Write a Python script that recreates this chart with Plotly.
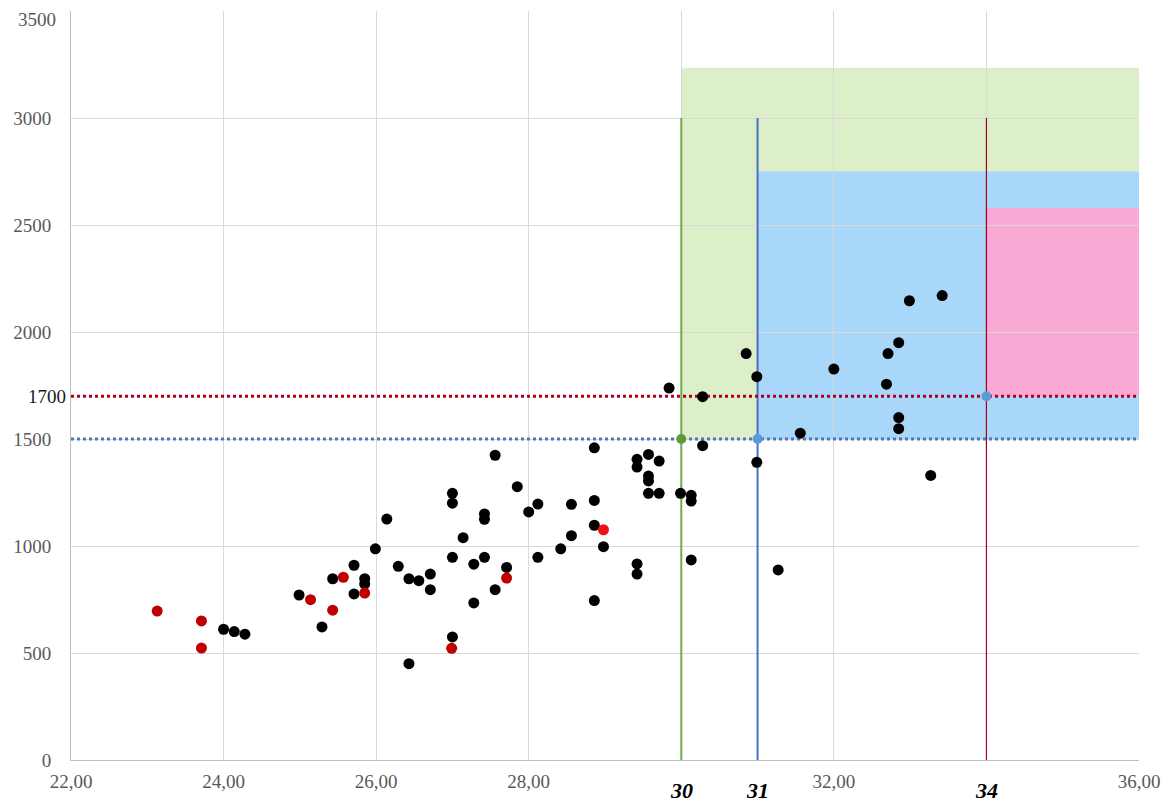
import plotly.graph_objects as go

# ---- data ----
black_x = [24.00, 24.14, 24.28, 24.99, 25.29, 25.43, 25.71, 25.71, 25.85, 25.85, 25.99, 26.14,
           26.29, 26.43, 26.43, 26.56, 26.71, 26.71, 27.00, 27.00, 27.00, 27.00, 27.14, 27.28,
           27.28, 27.42, 27.42, 27.42, 27.56, 27.56, 27.71, 27.85, 28.00, 28.12, 28.12, 28.42,
           28.56, 28.56, 28.86, 28.86, 28.86, 28.86, 28.98, 29.42, 29.42, 29.42, 29.42, 29.57,
           29.57, 29.57, 29.57, 29.71, 29.71, 29.84, 29.99, 30.13, 30.13, 30.13, 30.28, 30.28,
           30.85, 30.99, 30.99, 31.27, 31.56, 32.00, 32.69, 32.71, 32.85, 32.85, 32.85, 32.99,
           33.27, 33.42]
black_y = [611, 600, 588, 771, 622, 847, 910, 776, 847, 822, 987, 1126,
           905, 847, 450, 838, 869, 796, 1246, 1200, 947, 575, 1039, 915,
           734, 1150, 1125, 947, 1424, 796, 900, 1277, 1159, 1196, 947, 987,
           1195, 1048, 1459, 1213, 1097, 745, 997, 1405, 1369, 916, 869, 1428,
           1327, 1304, 1246, 1397, 1246, 1738, 1246, 1237, 1210, 935, 1698, 1469,
           1899, 1791, 1391, 888, 1527, 1827, 1756, 1899, 1950, 1600, 1548, 2146,
           1330, 2170]

red_x = [23.13, 23.71, 23.71, 25.14, 25.43, 25.57, 25.85, 26.99, 27.71]
red_y = [696, 650, 523, 749, 700, 854, 780, 522, 850]

bright_red_x = [28.98]
bright_red_y = [1076]

# thresholds
x_thresholds = [30, 31, 34]
x_threshold_labels = ["30", "31", "34"]
y_thresholds = [1500, 1700]

# zones (x0, x1, y0, y1)
green_zone = [30, 36, 1500, 3235]
blue_zone = [31, 36, 1500, 2750]
pink_zone = [34, 36, 1700, 2580]

x_tickvals = [22, 24, 26, 28, 30, 32, 34, 36]
x_ticktext = ["22,00", "24,00", "26,00", "28,00", "", "32,00", "", "36,00"]
y_tickvals = [0, 500, 1000, 1500, 2000, 2500, 3000, 3500]
y_ticktext = ["0", "500", "1000", "1500", "2000", "2500", "3000", ""]
y_top_label = "3500"

fig = go.Figure()

# zones
fig.add_shape(type="rect", x0=green_zone[0], x1=green_zone[1], y0=green_zone[2], y1=green_zone[3],
              fillcolor="#DDEFC9", line_width=0, layer="below")
fig.add_shape(type="rect", x0=blue_zone[0], x1=blue_zone[1], y0=blue_zone[2], y1=blue_zone[3],
              fillcolor="#A9D7F9", line_width=0, layer="below")
fig.add_shape(type="rect", x0=pink_zone[0], x1=pink_zone[1], y0=pink_zone[2], y1=pink_zone[3],
              fillcolor="#F9A9D3", line_width=0, layer="below")

# vertical threshold lines
vcolors = ["#70AD47", "#4472C4", "#A50021"]
vwidths = [2, 2, 1.2]
for xv, c, w in zip(x_thresholds, vcolors, vwidths):
    fig.add_trace(go.Scatter(x=[xv, xv], y=[0, 3000], mode="lines",
                             line=dict(color=c, width=w), showlegend=False, hoverinfo="skip"))

# horizontal dotted lines
fig.add_trace(go.Scatter(x=[22, 36], y=[y_thresholds[0]] * 2, mode="lines",
                         line=dict(color="#4F76B8", width=3, dash="dot"), showlegend=False))
fig.add_trace(go.Scatter(x=[22, 36], y=[y_thresholds[1]] * 2, mode="lines",
                         line=dict(color="#B00020", width=3, dash="dot"), showlegend=False))

# data points
fig.add_trace(go.Scatter(x=black_x, y=black_y, mode="markers",
                         marker=dict(color="#000000", size=11), showlegend=False))
fig.add_trace(go.Scatter(x=red_x, y=red_y, mode="markers",
                         marker=dict(color="#C00000", size=11), showlegend=False))
fig.add_trace(go.Scatter(x=bright_red_x, y=bright_red_y, mode="markers",
                         marker=dict(color="#EE1111", size=11), showlegend=False))

# intersection markers
fig.add_trace(go.Scatter(x=[x_thresholds[0]], y=[y_thresholds[0]], mode="markers",
                         marker=dict(color="#5E9A3A", size=10), showlegend=False))
fig.add_trace(go.Scatter(x=[x_thresholds[1], x_thresholds[2]], y=[y_thresholds[0], y_thresholds[1]],
                         mode="markers", marker=dict(color="#5B9BD5", size=10), showlegend=False))

# bold italic threshold labels under the x axis
for xv, lab in zip(x_thresholds, x_threshold_labels):
    fig.add_annotation(x=xv, y=0, yref="y", text="<b><i>" + lab + "</i></b>", showarrow=False,
                       yanchor="middle", yshift=-30,
                       font=dict(family="Liberation Serif", size=22, color="#000000"))
# extra label for 1700
fig.add_annotation(x=0, xref="paper", y=y_thresholds[1], yref="y", text="1700", showarrow=False,
                   xanchor="right", xshift=-3,
                   font=dict(family="Liberation Serif", size=19, color="#1A1A1A"))
# top label (kept inside the page)
fig.add_annotation(x=0, xref="paper", y=3500, yref="y", text=y_top_label, showarrow=False,
                   xanchor="right", yanchor="top", xshift=-14, yshift=3, borderpad=0,
                   font=dict(family="Liberation Serif", size=19, color="#595959"))

# note: the page body has an 8px margin, so margins are offset to compensate
fig.update_layout(
    width=1173, height=807,
    margin=dict(l=63, r=42, t=3, b=55, autoexpand=False),
    paper_bgcolor="white", plot_bgcolor="white",
    font=dict(family="Liberation Serif", size=19, color="#595959"),
    showlegend=False,
)
fig.update_xaxes(range=[22, 36], tickvals=x_tickvals, ticktext=x_ticktext,
                 showgrid=True, gridcolor="#D9D9D9", gridwidth=1,
                 showline=True, linecolor="#BFBFBF", linewidth=1, zeroline=False,
                 ticks="", ticklabelstandoff=4, automargin=False, ticklabeloverflow="allow",
                 tickfont=dict(family="Liberation Serif", size=19, color="#595959"))
fig.update_yaxes(range=[0, 3500], tickvals=y_tickvals, ticktext=y_ticktext,
                 showgrid=True, gridcolor="#D9D9D9", gridwidth=1,
                 showline=True, linecolor="#BFBFBF", linewidth=1, zeroline=False,
                 ticks="", ticklabelstandoff=15, automargin=False, ticklabeloverflow="allow",
                 tickfont=dict(family="Liberation Serif", size=19, color="#595959"))

fig.write_html("out.html")
